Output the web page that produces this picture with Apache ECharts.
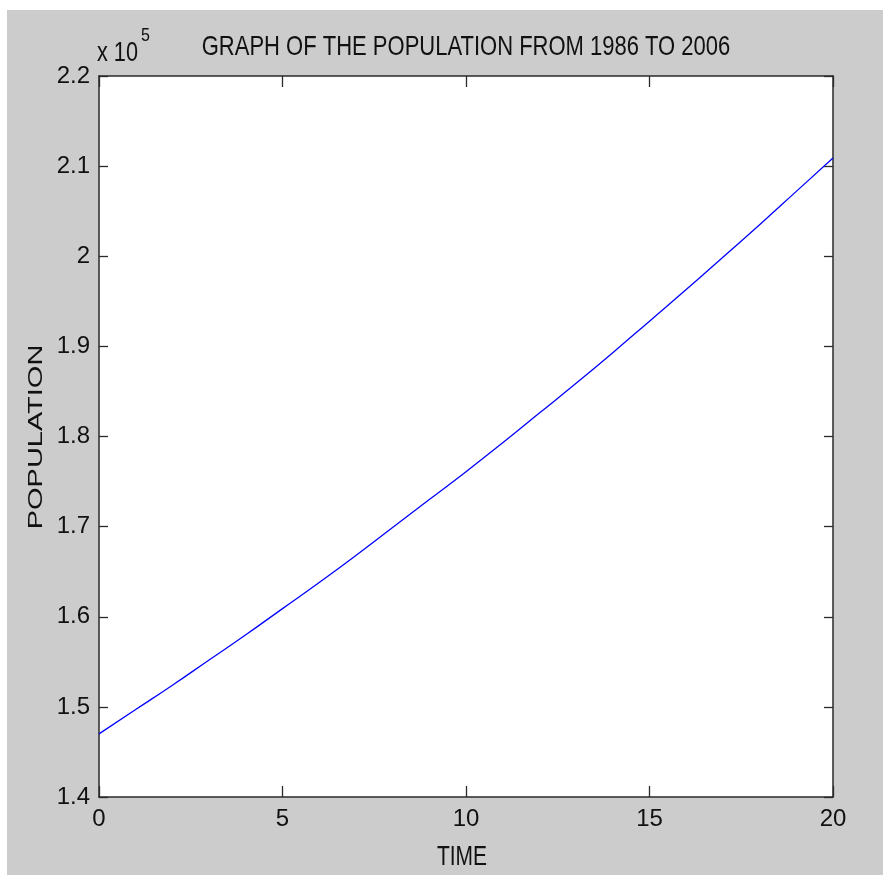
<!DOCTYPE html>
<html>
<head>
<meta charset="utf-8">
<script src="https://cdn.jsdelivr.net/npm/echarts@6/dist/echarts.min.js"></script>
<style>
html,body{margin:0;padding:0;background:#fff;}
#chart{width:883px;height:875px;}
</style>
</head>
<body>
<div id="chart"></div>
<script>
// Data
var years = [0,1,2,3,4,5,6,7,8,9,10,11,12,13,14,15,16,17,18,19,20];
var population = [147000,149700,152400,155200,158000,160900,163800,166800,169900,173000,176100,179300,182600,185900,189300,192800,196300,199900,203500,207200,210900];
var xTicks = [0,5,10,15,20];
var yTicks = [140000,150000,160000,170000,180000,190000,200000,210000,220000];
var titleText = 'GRAPH OF THE POPULATION FROM 1986 TO 2006';
var xName = 'TIME';
var yName = 'POPULATION';

var chart = echarts.init(document.getElementById('chart'), null, {renderer:'canvas'});
var seriesData = years.map(function(t,i){return [t, population[i]];});
var labelFont = '"Liberation Sans", Arial, sans-serif';
var axisLineStyle = {color:'#2a2a2a', width:1.5};
var tickStyle = {color:'#2a2a2a', width:1.3};
function yFmt(v){ return String(+(v/1e5).toFixed(2)); }

var option = {
  backgroundColor:'#ffffff',
  animation:false,
  graphic:[
    {type:'rect', z:-10, silent:true, shape:{x:7,y:10,width:876,height:865}, style:{fill:'#cccccc'}},
    {type:'text', x:466, y:47.5, scaleY:1.22, style:{text:titleText, font:'22px "Liberation Sans", Arial, sans-serif', fill:'#111', align:'center', verticalAlign:'middle'}},
    {type:'text', x:462, y:857, scaleY:1.3, style:{text:xName, font:'21px "Liberation Sans", Arial, sans-serif', fill:'#111', align:'center', verticalAlign:'middle'}},
    {type:'text', x:36, y:437, rotation:Math.PI/2, scaleX:1.38, style:{text:yName, font:'21px "Liberation Sans", Arial, sans-serif', fill:'#111', align:'center', verticalAlign:'middle'}},
    {type:'text', x:97, y:53, scaleY:1.29, style:{text:'x 10', font:'21.7px "Liberation Sans", Arial, sans-serif', fill:'#111', align:'left', verticalAlign:'middle'}},
    {type:'text', x:145.5, y:36, scaleY:1.13, style:{text:'5', font:'16px "Liberation Sans", Arial, sans-serif', fill:'#111', align:'center', verticalAlign:'middle'}}
  ],
  grid:{left:99, top:76, right:50, bottom:78, show:true, backgroundColor:'#ffffff', borderWidth:0},
  xAxis:[
    {type:'value', position:'bottom', min:xTicks[0], max:xTicks[xTicks.length-1], interval:5,
     axisLine:{show:true, onZero:false, lineStyle:axisLineStyle}, axisTick:{show:true, inside:true, length:11, lineStyle:tickStyle},
     splitLine:{show:false},
     axisLabel:{show:true, margin:10, fontFamily:labelFont, fontSize:24, color:'#111'}},
    {type:'value', position:'top', min:xTicks[0], max:xTicks[xTicks.length-1], interval:5,
     axisLine:{show:true, onZero:false, lineStyle:axisLineStyle}, axisTick:{show:true, inside:true, length:11, lineStyle:tickStyle},
     splitLine:{show:false}, axisLabel:{show:false}}
  ],
  yAxis:[
    {type:'value', position:'left', min:yTicks[0], max:yTicks[yTicks.length-1], interval:10000,
     axisLine:{show:true, onZero:false, lineStyle:axisLineStyle}, axisTick:{show:true, inside:true, length:9, lineStyle:tickStyle},
     splitLine:{show:false},
     axisLabel:{show:true, margin:9, fontFamily:labelFont, fontSize:24, color:'#111', formatter:yFmt}},
    {type:'value', position:'right', min:yTicks[0], max:yTicks[yTicks.length-1], interval:10000,
     axisLine:{show:true, onZero:false, lineStyle:axisLineStyle}, axisTick:{show:true, inside:true, length:9, lineStyle:tickStyle},
     splitLine:{show:false}, axisLabel:{show:false}}
  ],
  series:[
    {type:'line', xAxisIndex:0, yAxisIndex:0, data:seriesData, smooth:true, showSymbol:false, symbol:'none',
     lineStyle:{color:'#0000ff', width:1.3}, z:5}
  ]
};
chart.setOption(option);
</script>
</body>
</html>
